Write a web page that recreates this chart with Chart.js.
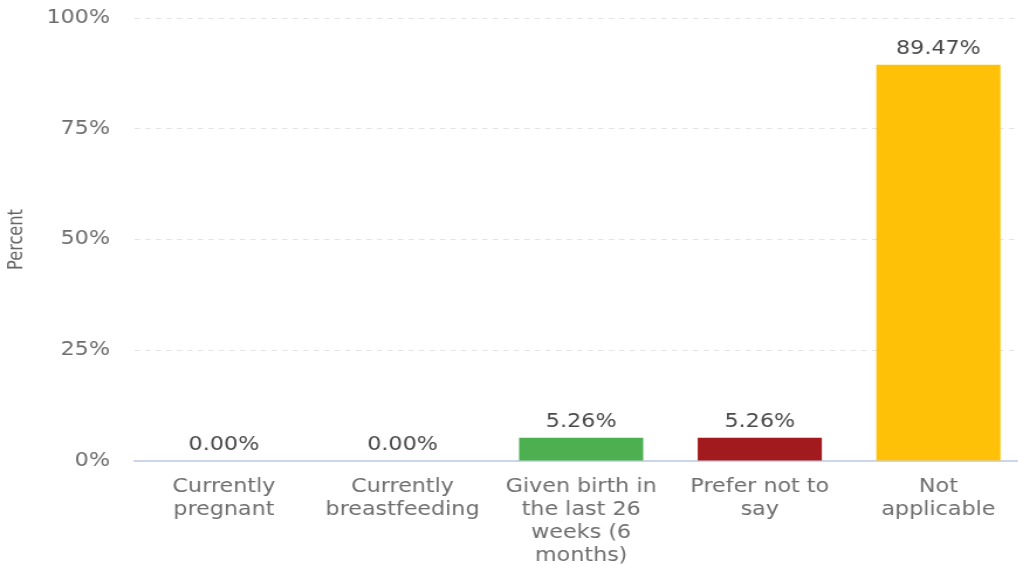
<!DOCTYPE html>
<html>
<head>
<meta charset="utf-8">
<script src="https://cdn.jsdelivr.net/npm/chart.js@4/dist/chart.umd.min.js"></script>
<style>
  html, body { margin: 0; padding: 0; background: #fff; overflow: hidden; }
  #wrap { width: 1018px; height: 565px; overflow: hidden; }
  /* chart is drawn narrower and widened horizontally on screen */
  #stretch { width: 880px; height: 565px; transform: scaleX(1.1705); transform-origin: 0 0; }
</style>
</head>
<body>
<div id="wrap"><div id="stretch"><canvas id="chart" width="880" height="565"></canvas></div></div>
<script>
const categories = [
  ["Currently", "pregnant"],
  ["Currently", "breastfeeding"],
  ["Given birth in", "the last 26", "weeks (6", "months)"],
  ["Prefer not to", "say"],
  ["Not", "applicable"]
];
const percentValues = [0.00, 0.00, 5.26, 5.26, 89.47];
const barColors = ["#7cb5ec", "#434348", "#4caf50", "#a21a1e", "#ffc107"];
const yTickValues = [0, 25, 50, 75, 100];

const FONT = "'DejaVu Sans', sans-serif";

// value labels above each bar
const valueLabels = {
  id: "valueLabels",
  afterDatasetsDraw(chart) {
    const ctx = chart.ctx;
    const meta = chart.getDatasetMeta(0);
    ctx.save();
    ctx.font = "19px " + FONT;
    ctx.fillStyle = "#4a4a4a";
    ctx.textAlign = "center";
    ctx.textBaseline = "middle";
    meta.data.forEach((bar, i) => {
      ctx.fillText(percentValues[i].toFixed(2) + "%", bar.x, bar.y - 15.5);
    });
    ctx.restore();
  }
};

new Chart(document.getElementById("chart"), {
  type: "bar",
  data: {
    labels: categories,
    datasets: [{
      data: percentValues,
      backgroundColor: barColors,
      borderWidth: 0,
      categoryPercentage: 1.0,
      barPercentage: 0.695
    }]
  },
  options: {
    responsive: false,
    animation: false,
    devicePixelRatio: 1,
    layout: { padding: { top: 18, right: 2, bottom: 0, left: 0 } },
    plugins: {
      legend: { display: false },
      tooltip: { enabled: false }
    },
    scales: {
      x: {
        grid: { display: false, drawTicks: false },
        border: { display: true, color: "#ccd6eb", width: 2 },
        ticks: {
          color: "#6e6e6e",
          font: { family: FONT, size: 19, lineHeight: 1.21 },
          padding: 15,
          maxRotation: 0,
          autoSkip: false
        },
        afterFit(scale) {
          scale.height = 104;
          scale.paddingLeft = 0;
          scale.paddingRight = 0;
        }
      },
      y: {
        min: 0,
        max: 100,
        afterBuildTicks(scale) { scale.ticks = yTickValues.map(v => ({ value: v })); },
        grid: { color: "#e3e3e3", lineWidth: 1, drawTicks: false },
        border: { display: false, dash: [4.5, 4.5] },
        ticks: {
          color: "#6e6e6e",
          font: { family: FONT, size: 19 },
          padding: 21,
          callback: v => v + "%"
        },
        title: {
          display: true,
          text: "Percent",
          color: "#666",
          font: { family: "'DejaVu Sans Condensed', 'DejaVu Sans', sans-serif", size: 18 },
          padding: { top: 4, bottom: 4 }
        },
        afterFit(scale) {
          scale.width = 115;
          scale.paddingTop = 0;
          scale.paddingBottom = 0;
        }
      }
    }
  },
  plugins: [valueLabels]
});
</script>
</body>
</html>
